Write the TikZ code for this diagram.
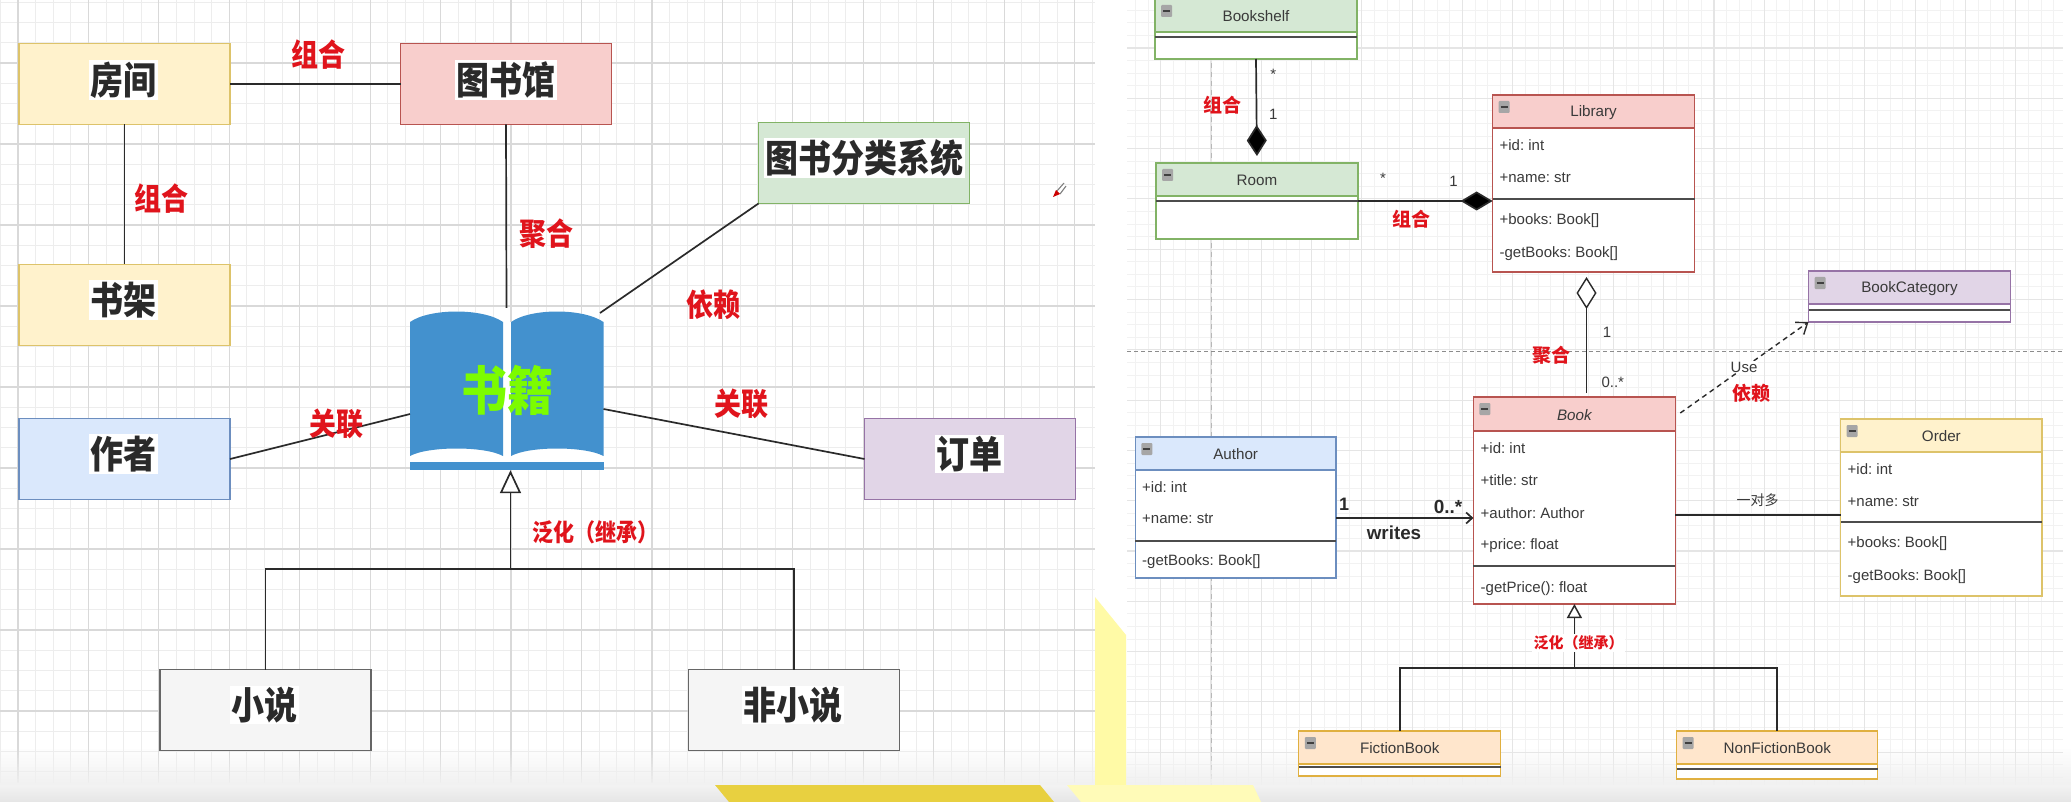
\documentclass[tikz,border=0pt]{standalone}
\usepackage{fontspec}
\usepackage{graphicx}
\setmainfont{Liberation Sans}
\newfontfamily\cjk{Noto Sans CJK SC}
\usetikzlibrary{arrows.meta,calc}
\definecolor{gfill}{HTML}{D5E8D4}\definecolor{gline}{HTML}{82B366}
\definecolor{rfill}{HTML}{F8CECC}\definecolor{rline}{HTML}{B85450}
\definecolor{bfill}{HTML}{DAE8FC}\definecolor{bline}{HTML}{6C8EBF}
\definecolor{pfill}{HTML}{E1D5E7}\definecolor{pline}{HTML}{9673A6}
\definecolor{yfill}{HTML}{FFF2CC}\definecolor{yline}{HTML}{DDC36A}
\definecolor{ofill}{HTML}{FFE6CC}\definecolor{oline}{HTML}{E0B040}
\definecolor{nfill}{HTML}{F5F5F5}\definecolor{nline}{HTML}{666666}
\definecolor{lblred}{HTML}{E0141C}
\definecolor{bookblue}{HTML}{4391CE}
\definecolor{booklime}{HTML}{7CFC00}
\definecolor{ink}{HTML}{2A2A2A}
\definecolor{softink}{HTML}{3A3A3A}
\tikzset{
  lbox/.style={rectangle,draw=#1line,line width=1.5pt,inner sep=0pt,outer sep=0pt,minimum width=211pt,minimum height=81pt},
  ltext/.style={rectangle,fill=white,inner sep=1.5pt,text=ink,font=\cjk\bfseries\fontsize{33}{33}\selectfont},
  rlabelL/.style={text=lblred,inner sep=0pt,font=\cjk\bfseries\fontsize{27}{27}\selectfont},
  rlabelR/.style={text=lblred,inner sep=0pt,font=\cjk\bfseries\fontsize{19}{19}\selectfont},
  conn/.style={draw=ink,line width=1.7pt},
  small/.style={text=softink,inner sep=0pt,font=\fontsize{15}{15}\selectfont},
  member/.style={text=softink,inner sep=0pt,anchor=west,font=\frenchspacing\fontsize{15}{15}\selectfont},
  gridminorL/.style={draw=black!7,line width=1pt},
  gridmajorL/.style={draw=black!15,line width=1.2pt},
  gridminorR/.style={draw=black!5,line width=0.9pt},
  gridmajorR/.style={draw=black!10,line width=1.1pt},
}
\newcommand{\lbig}[1]{\scalebox{1}[1.15]{#1}}
% name, left, top, right, headerbottom, sep, bottom, colour, title
\newcommand{\umlclass}[9]{%
  \node[rectangle,draw=#8line,fill=white,line width=1.3pt,inner sep=0pt,outer sep=0pt,
    minimum width={(#4-#2)*1pt},minimum height={(#7-#3)*1pt}] (#1) at ({(#2+#4)/2},{(#3+#7)/2}) {};
  \fill[#8fill] (#2,#3) rectangle (#4,#5);
  \draw[#8line,line width=1.3pt] (#2,#3) rectangle (#4,#7);
  \draw[#8line,line width=1.3pt] (#2,#5) -- (#4,#5);
  \draw[draw=black!70,line width=1.8pt] (#2,#6) -- (#4,#6);
  \fill[black!35,rounded corners=1pt] ({#2+6},{#3+6}) rectangle ({#2+17},{#3+18});
  \draw[black!75,line width=1.3pt] ({#2+8},{#3+12}) -- ({#2+15},{#3+12});
  \node[text=softink,inner sep=0pt,font=\fontsize{15.2}{15.2}\selectfont] (#1T) at ({(#2+#4)/2},{(#3+#5)/2+1}) {#9};
}
\begin{document}
\begin{tikzpicture}[x=1pt,y=-1pt]
\useasboundingbox (0,0) rectangle (2071,802);
\fill[white] (0,0) rectangle (2071,802);
% --- left grid
\foreach \i in {-1,...,61} \draw[gridminorL] ({18+17.61*\i},0) -- ({18+17.61*\i},783);
\foreach \j in {-3,...,35} \draw[gridminorL] (0,{63+20.25*\j}) -- (1095,{63+20.25*\j});
\foreach \i in {0,4,...,60} \draw[gridmajorL] ({18+17.61*\i},0) -- ({18+17.61*\i},783);
\foreach \j in {0,4,...,32} \draw[gridmajorL] (0,{63+20.25*\j}) -- (1095,{63+20.25*\j});
% --- right grid
\foreach \i in {-6,...,67} \draw[gridminorR] ({1211+12.575*\i},0) -- ({1211+12.575*\i},785);
\foreach \j in {-3,...,58} \draw[gridminorR] (1127,{48+12.575*\j}) -- (2063,{48+12.575*\j});
\foreach \i in {-4,0,...,64} \draw[gridmajorR] ({1211+12.575*\i},0) -- ({1211+12.575*\i},785);
\foreach \j in {0,4,...,56} \draw[gridmajorR] (1127,{48+12.575*\j}) -- (2063,{48+12.575*\j});
\draw[black!28,line width=1pt,dash pattern=on 5pt off 4pt] (1211,0) -- (1211,785);
\draw[black!45,line width=1pt,dash pattern=on 4pt off 3pt] (1127,351) -- (2063,351);
% --- bottom fade and page decoration
\foreach \k in {0,...,12} \fill[black!6,opacity={\k/13}] (0,{746+3*\k}) rectangle (2071,{749+3*\k});
\fill[top color=black!5,bottom color=black!10] (0,785) rectangle (2071,802);
\fill[yellow!35!white] (1095,597) -- (1126,635) -- (1126,785) -- (1095,785) -- cycle;
\fill[yellow!28!white] (1067,785) -- (1253,785) -- (1261,802) -- (1081,802) -- cycle;
\fill[fill={rgb,255:red,232;green,208;blue,64}] (715,785) -- (1040,785) -- (1054,802) -- (729,802) -- cycle;
% --- pen cursor
\draw[black!50,line width=1.1pt] (1057,191) -- (1064,183) (1060,194) -- (1066,186);
\fill[red!80!black] (1053,197) -- (1056,190) -- (1060,194) -- cycle;
% --- left boxes
\node[lbox=y,fill=yfill] (room) at (124.5,84) {};
\node[lbox=r,fill=rfill] (lib) at (506,84) {};
\node[lbox=g,fill=gfill] (cat) at (864,163) {};
\node[lbox=y,fill=yfill] (shelf) at (124.5,305) {};
\node[lbox=b,fill=bfill] (auth) at (124.5,459) {};
\node[lbox=p,fill=pfill] (order) at (970,459) {};
\node[lbox=n,fill=nfill] (fic) at (265.5,710) {};
\node[lbox=n,fill=nfill] (nonfic) at (794,710) {};
\node[ltext] (roomT) at (123,80) {\lbig{房间}};
\node[ltext] (libT) at (506,80) {\lbig{图书馆}};
\node[ltext] (catT) at (864,158) {\lbig{图书分类系统}};
\node[ltext] (shelfT) at (123,300) {\lbig{书架}};
\node[ltext] (authT) at (123,454) {\lbig{作者}};
\node[ltext] (orderT) at (969,454) {\lbig{订单}};
\node[ltext] (ficT) at (264,705) {\lbig{小说}};
\node[ltext] (nonficT) at (793,705) {\lbig{非小说}};
% --- book icon
\fill[white] (410,322) .. controls (430,308) and (483,308) .. (503,322) -- (511,322) .. controls (531,308) and (583,308) .. (603.5,322) -- (603.5,470) -- (410,470) -- cycle;
\fill[bookblue] (410,322) .. controls (430,308) and (483,308) .. (503,322) -- (503,456) .. controls (485,446) and (428,446) .. (410,456) -- cycle;
\fill[bookblue] (511,322) .. controls (531,308) and (583,308) .. (603.5,322) -- (603.5,456) .. controls (585,446) and (529,446) .. (511,456) -- cycle;
\fill[bookblue] (410,462) rectangle (603.5,470);
\node[rectangle,inner sep=0pt,minimum width=193pt,minimum height=162pt] (book) at (506.5,389) {};
\node[text=booklime,inner sep=0pt,font=\cjk\bfseries\fontsize{46}{46}\selectfont] (bookT) at (507,390) {\lbig{书籍}};
\coordinate (bookNE) at (600,313);
\coordinate (bookW) at (410,414);
\coordinate (bookE) at (603.5,409);
\coordinate (gjoin) at (510.5,569);
\coordinate (gleft) at (fic.north |- gjoin);
\coordinate (gright) at (nonfic.north |- gjoin);
% --- left connectors
\draw[conn] (room.east) -- (lib.west);
\draw[conn] (room.south) -- (shelf.north);
\draw[conn] (lib.south) -- (book.north);
\draw[conn] (cat.south west) -- (bookNE);
\draw[conn] (auth.east) -- (bookW);
\draw[conn] (order.west) -- (bookE);
\draw[conn,-{Triangle[open,fill=white,length=23pt,width=21pt]}] (gjoin) -- (gjoin |- book.south);
\draw[conn] (fic.north) -- (gleft) -- (gright) -- (nonfic.north);
% --- left labels
\node[rlabelL] (l1) at (318,55) {\lbig{组合}};
\node[rlabelL] (l2) at (161,199) {\lbig{组合}};
\node[rlabelL] (l3) at (546,234) {\lbig{聚合}};
\node[rlabelL] (l4) at (713,305) {\lbig{依赖}};
\node[rlabelL] (l5) at (336,424) {\lbig{关联}};
\node[rlabelL] (l6) at (741,404) {\lbig{关联}};
\node[text=lblred,inner sep=0pt,font=\cjk\bfseries\fontsize{21}{21}\selectfont] (l7) at (595,532) {\lbig{泛化（继承）}};
% --- right classes
\umlclass{uShelf}{1155}{-1}{1357}{32}{37}{59}{g}{Bookshelf}
\umlclass{uRoom}{1156}{163}{1358}{196}{201}{239}{g}{Room}
\umlclass{uLib}{1492.6}{95}{1694.5}{128}{199}{272}{r}{Library}
\umlclass{uCat}{1808.5}{271}{2010.4}{304}{310}{322}{p}{BookCategory}
\umlclass{uBook}{1473.4}{397}{1675.3}{431}{566}{604}{r}{\itshape Book}
\umlclass{uAuth}{1135.3}{437}{1336}{470}{541}{578}{b}{Author}
\umlclass{uOrder}{1840.7}{419}{2042}{452}{522}{596}{y}{Order}
\umlclass{uFic}{1298.8}{731}{1500.7}{764}{767}{776}{o}{FictionBook}
\umlclass{uNon}{1676.6}{731}{1877.8}{764}{769}{779}{o}{NonFictionBook}
% --- members
\node[member] (m1) at (1499.4,145) {+id: int};
\node[member] (m2) at (1499.4,178) {+name: str};
\node[member] (m3) at (1499.4,221) {+books: Book[]};
\node[member] (m4) at (1499.4,254) {-getBooks: Book[]};
\node[member] (m5) at (1480.5,448) {+id: int};
\node[member] (m6) at (1480.5,480) {+title: str};
\node[member] (m7) at (1480.5,513) {+author: Author};
\node[member] (m8) at (1480.5,546) {+price: float};
\node[member] (m9) at (1480.5,589) {-getPrice(): float};
\node[member] (m10) at (1142,487) {+id: int};
\node[member] (m11) at (1142,519) {+name: str};
\node[member] (m12) at (1142,562) {-getBooks: Book[]};
\node[member] (m13) at (1847.5,469) {+id: int};
\node[member] (m14) at (1847.5,502) {+name: str};
\node[member] (m15) at (1847.5,544) {+books: Book[]};
\node[member] (m16) at (1847.5,577) {-getBooks: Book[]};
% --- right connectors
\coordinate (agg) at (1586.5,393);
\coordinate (useS) at (1680.3,413);
\coordinate (writeS) at (1336,518);
\coordinate (onemany) at (1675.3,515);
\coordinate (gj2) at (1574.4,668);
\coordinate (gl2) at (uFic.north |- gj2);
\coordinate (gr2) at (uNon.north |- gj2);
\draw[conn,shorten >=7pt,-{Diamond[length=31pt,width=20pt,fill=black]}] (uShelf.south) -- (uRoom.north);
\draw[conn,-{Diamond[length=32pt,width=19pt,fill=black]}] (uRoom.east) -- (uRoom.east -| uLib.west);
\draw[conn,line width=1.4pt,shorten >=5pt,-{Diamond[open,fill=white,length=32pt,width=20pt]}] (agg) -- (agg |- uLib.south);
\draw[conn,line width=1.4pt,dash pattern=on 5pt off 4pt,-{Straight Barb[length=10pt,width=15pt]}] (useS) -- (uCat.south west);
\draw[conn,-{Straight Barb[length=6pt,width=11pt]}] (writeS) -- (writeS -| uBook.west);
\draw[conn] (onemany) -- (onemany -| uOrder.west);
\draw[conn,line width=1.5pt,-{Triangle[open,fill=white,length=14pt,width=15pt]}] (gj2) -- (gj2 |- uBook.south);
\draw[conn] (uFic.north) -- (gl2) -- (gr2) -- (uNon.north);
% --- right labels
\node[rlabelR] (r1) at (1222.6,105) {组合};
\node[rlabelR] (r2) at (1411.5,219) {组合};
\node[rlabelR] (r3) at (1551,355) {聚合};
\node[rlabelR] (r4) at (1751.5,393) {依赖};
\node[fill=white,text=lblred,inner sep=1.5pt,font=\cjk\bfseries\fontsize{15}{15}\selectfont] (r5) at (1578.7,643) {泛化（继承）};
\node[small] (s1) at (1273.4,74) {*};
\node[small] (s2) at (1273.4,114) {1};
\node[small] (s3) at (1383,178) {*};
\node[small] (s4) at (1453.6,181) {1};
\node[small] (s5) at (1607,332) {1};
\node[small] (s6) at (1612.8,382) {0..*};
\node[small,fill=white,inner sep=1pt] (s7) at (1744,367) {Use};
\node[text=softink,inner sep=0pt,font=\cjk\fontsize{14}{14}\selectfont] (s8) at (1757.7,500) {一对多};
\node[text=ink,inner sep=0pt,font=\bfseries\fontsize{18}{18}\selectfont] (b1) at (1344,504) {1};
\node[text=ink,inner sep=0pt,font=\bfseries\fontsize{19}{19}\selectfont] (b2) at (1448,507) {0..*};
\node[text=ink,inner sep=0pt,font=\bfseries\fontsize{18.8}{18.8}\selectfont] (b3) at (1394,533) {writes};
\end{tikzpicture}
\end{document}
